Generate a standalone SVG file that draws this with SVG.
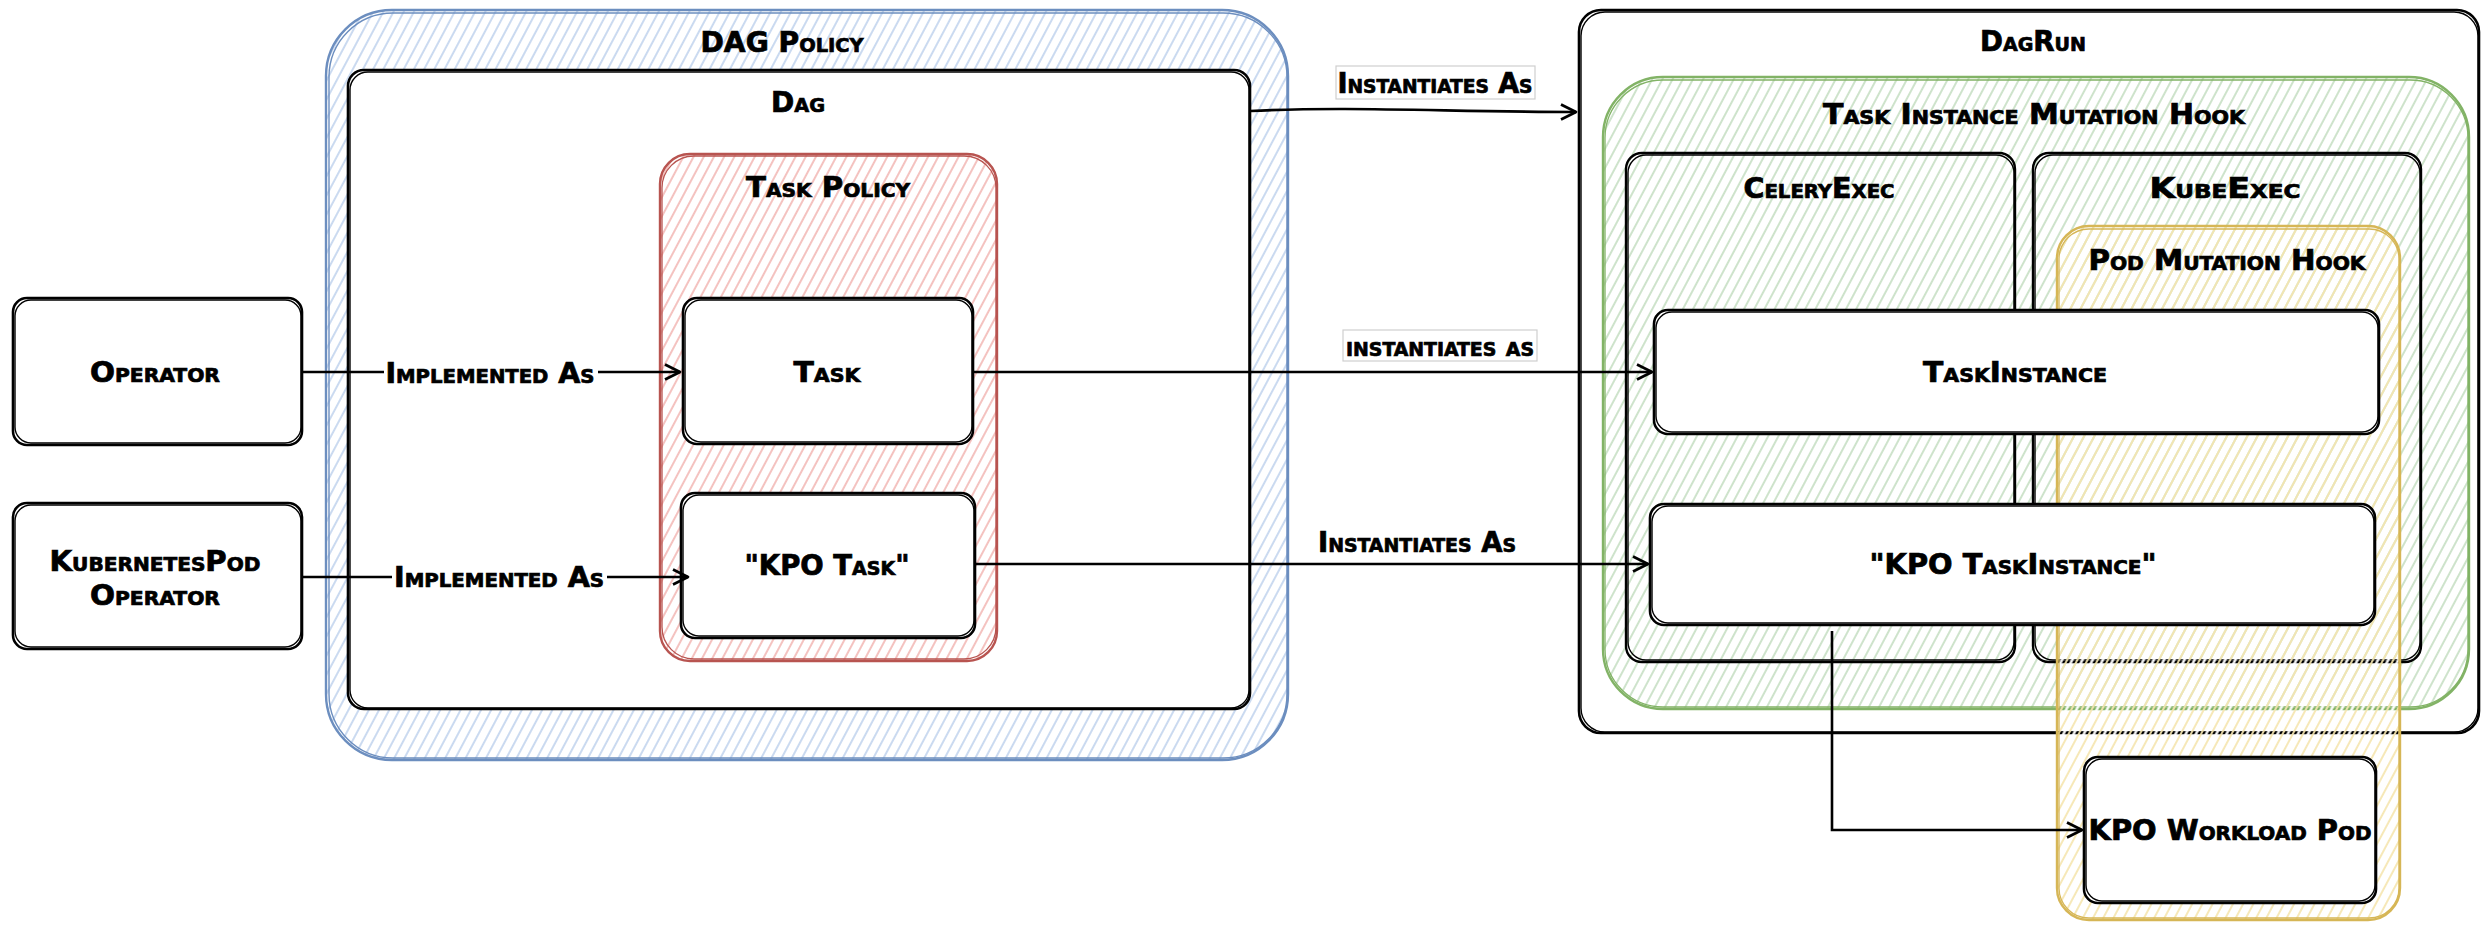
<svg xmlns="http://www.w3.org/2000/svg" width="2481" height="926" viewBox="0 0 2481 926">
<style>
.t{font-family:'DejaVu Sans Condensed','Liberation Sans Narrow','Liberation Sans',sans-serif;font-weight:bold;font-variant:small-caps;font-size:29px;text-anchor:middle;dominant-baseline:central;fill:#000;stroke:#000;stroke-width:0.7}
.box{fill:#fff;stroke:#000;stroke-width:2.6}
.box2{fill:none;stroke:#000;stroke-width:1.4}
.frame{fill:none;stroke:#000;stroke-width:2.4}
.conn{fill:none;stroke:#000;stroke-width:2.6}
.lbg{fill:#fff;stroke:none}
.lbox{fill:#fff;stroke:#cfcfcf;stroke-width:1.2}
</style>
<defs>
<pattern id="hBlue" width="9" height="9" patternUnits="userSpaceOnUse" patternTransform="rotate(28)"><line x1="2" y1="0" x2="2" y2="9" stroke="#c5d6ef" stroke-width="1.8"/></pattern>
<pattern id="hRed" width="9" height="9" patternUnits="userSpaceOnUse" patternTransform="rotate(28)"><line x1="2" y1="0" x2="2" y2="9" stroke="#f3bcb9" stroke-width="1.8"/></pattern>
<pattern id="hGreen" width="9" height="9" patternUnits="userSpaceOnUse" patternTransform="rotate(28)"><line x1="2" y1="0" x2="2" y2="9" stroke="#c9e0c6" stroke-width="1.8"/></pattern>
<pattern id="hYellow" width="9" height="9" patternUnits="userSpaceOnUse" patternTransform="rotate(28)"><line x1="6.5" y1="0" x2="6.5" y2="9" stroke="#fff" stroke-width="2.4"/><line x1="2" y1="0" x2="2" y2="9" stroke="#f5e6b0" stroke-width="1.8"/></pattern>
<marker id="arr" viewBox="0 0 12 12" refX="11" refY="6" markerWidth="18" markerHeight="18" markerUnits="userSpaceOnUse" orient="auto"><path d="M1,1 L11,6 L1,11" fill="none" stroke="#000" stroke-width="1.8" stroke-linejoin="round"/></marker>
</defs>

<!-- Left side -->
<g id="dag-policy">
<rect x="326" y="10" width="962" height="750" rx="66" fill="url(#hBlue)" stroke="#6c8ebf" stroke-width="2.4"/>
<rect x="329" y="13" width="958" height="745" rx="64" fill="none" stroke="#6c8ebf" stroke-width="1.4"/>
<text class="t" x="782" y="42" textLength="163" lengthAdjust="spacingAndGlyphs">DAG Policy</text>
</g>
<g id="dag">
<rect class="box" x="348" y="70" width="902" height="639" rx="16"/>
<rect class="box2" x="350" y="72" width="899" height="636" rx="18"/>
<text class="t" x="798" y="102" textLength="54" lengthAdjust="spacingAndGlyphs">Dag</text>
</g>
<g id="task-policy">
<rect x="660" y="154" width="337" height="507" rx="30" fill="url(#hRed)" stroke="#b85450" stroke-width="2.4"/>
<rect x="662" y="156" width="334" height="503" rx="32" fill="none" stroke="#b85450" stroke-width="1.3"/>
<text class="t" x="828" y="187" textLength="164" lengthAdjust="spacingAndGlyphs">Task Policy</text>
</g>
<g id="task">
<rect class="box" x="683" y="298" width="290" height="146" rx="14"/>
<rect class="box2" x="685" y="300" width="287" height="142" rx="16"/>
<text class="t" x="827" y="372" textLength="67" lengthAdjust="spacingAndGlyphs">Task</text>
</g>
<g id="kpo-task">
<rect class="box" x="681" y="493" width="294" height="145" rx="14"/>
<rect class="box2" x="683" y="495" width="291" height="141" rx="16"/>
<text class="t" x="827" y="565" textLength="165" lengthAdjust="spacingAndGlyphs">"KPO Task"</text>
</g>
<g id="operator">
<rect class="box" x="13" y="298" width="289" height="147" rx="14"/>
<rect class="box2" x="15" y="300" width="286" height="143" rx="16"/>
<text class="t" x="155" y="372" textLength="130" lengthAdjust="spacingAndGlyphs">Operator</text>
</g>
<g id="kpo-operator">
<rect class="box" x="13" y="503" width="289" height="146" rx="14"/>
<rect class="box2" x="15" y="505" width="286" height="142" rx="16"/>
<text class="t" x="155" y="561" textLength="211" lengthAdjust="spacingAndGlyphs">KubernetesPod</text>
<text class="t" x="155" y="595" textLength="130" lengthAdjust="spacingAndGlyphs">Operator</text>
</g>

<!-- Right side -->
<g id="dagrun">
<rect class="box" x="1579" y="10" width="900" height="723" rx="22"/>
<rect class="box2" x="1581" y="12" width="897" height="720" rx="24"/>
<text class="t" x="2033" y="41" textLength="106" lengthAdjust="spacingAndGlyphs">DagRun</text>
</g>
<g id="ti-mutation-hook">
<rect x="1603" y="77" width="866" height="632" rx="60" fill="url(#hGreen)" stroke="#82b366" stroke-width="2.4"/>
<rect x="1605" y="80" width="863" height="627" rx="58" fill="none" stroke="#82b366" stroke-width="1.3"/>
<text class="t" x="2034" y="114" textLength="422" lengthAdjust="spacingAndGlyphs">Task Instance Mutation Hook</text>
</g>
<g id="celery-exec">
<rect class="frame" x="1626" y="153" width="389" height="509" rx="16"/>
<rect class="box2" x="1628" y="155" width="386" height="505" rx="18"/>
<text class="t" x="1819" y="188" textLength="151" lengthAdjust="spacingAndGlyphs">CeleryExec</text>
</g>
<g id="kube-exec">
<rect class="frame" x="2033" y="153" width="388" height="509" rx="16"/>
<rect class="box2" x="2035" y="155" width="385" height="505" rx="18"/>
<text class="t" x="2225" y="188" textLength="151" lengthAdjust="spacingAndGlyphs">KubeExec</text>
</g>
<g id="pod-mutation-hook">
<rect x="2057" y="226" width="343" height="694" rx="32" fill="url(#hYellow)" stroke="#d6b656" stroke-width="2.4"/>
<rect x="2059" y="229" width="340" height="689" rx="30" fill="none" stroke="#d6b656" stroke-width="1.3"/>
<text class="t" x="2227" y="260" textLength="277" lengthAdjust="spacingAndGlyphs">Pod Mutation Hook</text>
</g>
<g id="task-instance">
<rect class="box" x="1654" y="310" width="725" height="124" rx="14"/>
<rect class="box2" x="1656" y="312" width="722" height="120" rx="16"/>
<text class="t" x="2015" y="372" textLength="184" lengthAdjust="spacingAndGlyphs">TaskInstance</text>
</g>
<g id="kpo-task-instance">
<rect class="box" x="1650" y="504" width="725" height="121" rx="14"/>
<rect class="box2" x="1652" y="506" width="722" height="117" rx="16"/>
<text class="t" x="2013" y="564" textLength="287" lengthAdjust="spacingAndGlyphs">"KPO TaskInstance"</text>
</g>
<g id="kpo-workload-pod">
<rect class="box" x="2084" y="757" width="292" height="146" rx="14"/>
<rect class="box2" x="2086" y="759" width="289" height="142" rx="16"/>
<text class="t" x="2230" y="830" textLength="283" lengthAdjust="spacingAndGlyphs">KPO Workload Pod</text>
</g>

<!-- Connectors -->
<g id="connectors">
<path class="conn" d="M303,372 L680,372" marker-end="url(#arr)"/>
<rect class="lbg" x="384" y="357" width="214" height="32"/>
<text class="t" x="490" y="373" textLength="209" lengthAdjust="spacingAndGlyphs">Implemented As</text>

<path class="conn" d="M303,577 L688,577" marker-end="url(#arr)"/>
<rect class="lbg" x="392" y="561" width="215" height="32"/>
<text class="t" x="499" y="577" textLength="210" lengthAdjust="spacingAndGlyphs">Implemented As</text>

<path class="conn" d="M1250,111 C1350,106 1450,112 1576,112" marker-end="url(#arr)"/>
<rect class="lbox" x="1336" y="66" width="199" height="33"/>
<text class="t" x="1435" y="83" textLength="195" lengthAdjust="spacingAndGlyphs">Instantiates As</text>

<path class="conn" d="M974,372 L1652,372" marker-end="url(#arr)"/>
<rect class="lbox" x="1343" y="330" width="194" height="31"/>
<text class="t" x="1440" y="346" textLength="188" lengthAdjust="spacingAndGlyphs">instantiates as</text>

<path class="conn" d="M976,564 L1648,564" marker-end="url(#arr)"/>
<text class="t" x="1417" y="542" textLength="198" lengthAdjust="spacingAndGlyphs">Instantiates As</text>

<path class="conn" d="M1832,631 L1832,830 L2082,830" marker-end="url(#arr)"/>
</g>
</svg>
